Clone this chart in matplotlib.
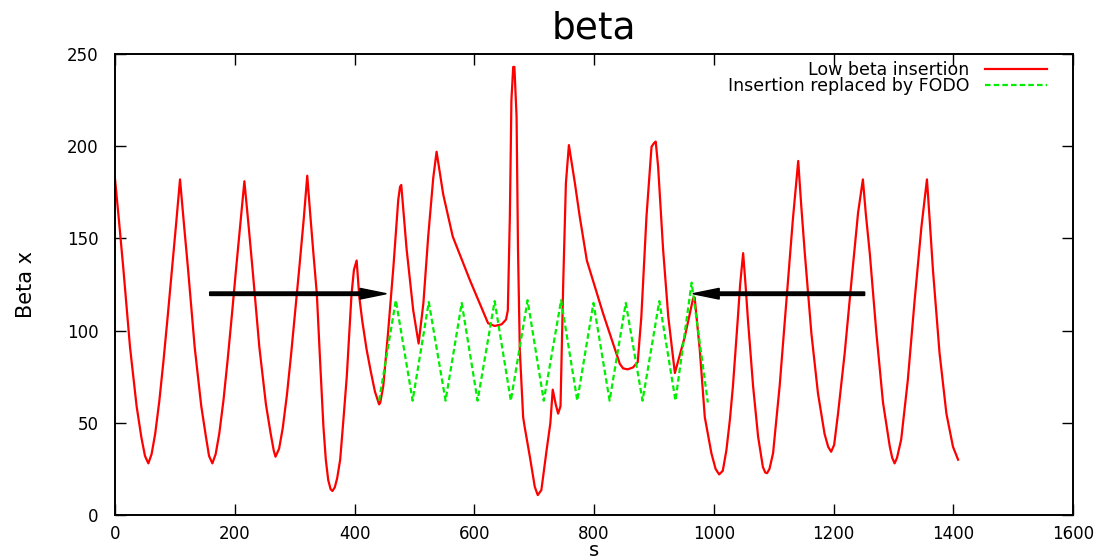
import matplotlib
matplotlib.use("Agg")
import matplotlib.pyplot as plt

# courbe beta x, insertion basse beta (lecture sur le graphe)
s_low = [0, 7, 14, 25, 36, 44, 50, 55.6, 61, 67, 74, 81, 88, 95, 102, 108.5,
         115, 122, 133, 144, 152, 157, 162.5, 168, 174, 181, 188, 195, 202, 209, 216,
         223, 230, 241, 252, 260, 265, 268, 274, 280, 287, 294, 301, 308, 315, 321,
         326, 331, 337, 343, 348, 352, 356, 360, 363, 367, 371, 376, 381, 387, 391, 395,
         399, 403.5, 408, 413, 420, 427, 434, 441,
         443, 448, 456, 465, 473, 476, 478, 487, 498, 507, 515, 523, 531.5, 537, 548,
         564, 592.6, 623, 634, 645.6, 653, 656, 659.4, 662, 665, 667, 670.6, 673, 676,
         681.6, 684, 692.8, 701, 706, 712, 720.7, 727, 731, 736, 740, 744, 748.5, 753,
         758, 768, 776, 788, 815, 843, 848.6, 856, 865, 873, 879, 887.6, 896, 900, 903,
         907, 915.4, 924, 935, 951.6, 965.5, 968, 976.6, 985, 996, 1003, 1009,
         1015, 1021, 1027, 1032, 1036, 1040, 1044, 1049, 1053, 1057, 1065.6, 1074, 1082,
         1086, 1089, 1093, 1099, 1110, 1121, 1132, 1141, 1146, 1152, 1163, 1174, 1185,
         1191, 1196, 1201, 1207.5, 1218.7, 1230, 1241, 1249, 1254, 1260.5, 1271.6,
         1282.6, 1294, 1298, 1302, 1306, 1313, 1324, 1335.6, 1346.7, 1356, 1361, 1366,
         1377, 1388.5, 1399.5, 1408]
beta_low = [182, 158, 133, 91, 59, 42, 32, 28, 33, 44, 62, 84, 108, 133, 158, 182,
            158, 133, 91, 59, 42, 32, 28, 33, 44, 62, 84, 108, 133, 157, 181,
            157, 132, 91, 60, 44, 35, 31.6, 36, 47, 65, 87, 111, 135, 160, 184,
            163, 143, 120, 80, 48, 30, 19, 14, 13, 15, 20, 30, 50, 75, 98, 120,
            133, 138, 118, 105, 90, 78, 67, 60,
            61, 70, 99, 135, 171, 178, 179, 144, 111, 93, 115, 151, 183, 197, 174,
            151, 127.4, 104, 102.5, 103.4, 106, 111, 162, 225, 243, 243, 216, 144, 89.5,
            53, 48, 31.6, 15.3, 10.8, 13.5, 35, 49.7, 68, 60, 55, 59, 125.6, 180,
            200.6, 180, 162, 138, 109.4, 82, 79.5, 79, 80, 83, 107.6, 162, 199.7, 201.6, 202.5,
            189, 143.7, 107.5, 77, 96.7, 117.5, 118, 89.5, 53, 33.5, 25, 22,
            24, 35, 52, 70, 88, 106, 125, 142, 125, 106, 70, 42.5, 26,
            23, 22.7, 25, 33.5, 70, 115, 160, 192, 168, 142, 98.5, 66, 44,
            37, 34.3, 38, 55, 88, 127, 164, 182, 163, 142, 98.5,
            61, 37, 31, 28, 31, 41, 73, 117, 156, 182, 158, 133,
            88, 55, 37, 30]

# insertion remplacée par des mailles FODO
s_fodo = [441, 469, 497, 524, 552, 579, 605.5, 634, 661, 689, 716,
          745, 772, 799, 826, 853, 881, 909, 936, 963, 990]
beta_fodo = [62, 116.5, 62, 115.5, 62, 115, 62, 116, 62, 116.5, 62,
             116.5, 62, 115, 62, 115, 62, 116, 62, 126, 61]

# flèches (début, fin) en s, à beta = 120
arrow_y = 120
left_arrow = (158, 453)
right_arrow = (1252, 965)

fig = plt.figure(figsize=(11.01, 5.59), dpi=100)
ax = fig.add_axes([0.1045, 0.0787, 0.8701, 0.8247])

ax.plot(s_low, beta_low, color="#ff0000", lw=1.6, label="Low beta insertion", zorder=2)
ax.plot(s_fodo, beta_fodo, color="#00ee00", lw=1.6, ls=(0, (2.5, 1.4)),
        label="Insertion replaced by FODO", zorder=3)

for a, b in (left_arrow, right_arrow):
    ax.arrow(a, arrow_y, b - a, 0, width=1.9, head_width=5.8, head_length=44,
             length_includes_head=True, color="black", zorder=4)

ax.set_xlim(0, 1600)
ax.set_ylim(0, 250)
ax.set_xticks(range(0, 1601, 200))
ax.set_yticks(range(0, 251, 50))
ax.tick_params(direction="in", length=8, width=1, top=True, right=True, labelsize=12)
ax.tick_params(axis="y", pad=12)
ax.tick_params(axis="x", pad=7)
for sp in ax.spines.values():
    sp.set_linewidth(1.4)

ax.set_title("beta", fontsize=27, pad=11)
ax.set_ylabel("Beta x", fontsize=15, labelpad=22)
ax.set_xlabel("s", fontsize=14, labelpad=-1)

ax.legend(loc="upper right", bbox_to_anchor=(0.973, 0.985), frameon=False,
          markerfirst=False, fontsize=12.5, handlelength=3.6, handletextpad=0.9,
          labelspacing=-0.1, borderpad=0, borderaxespad=0)

fig.savefig("out.png", dpi=100)
